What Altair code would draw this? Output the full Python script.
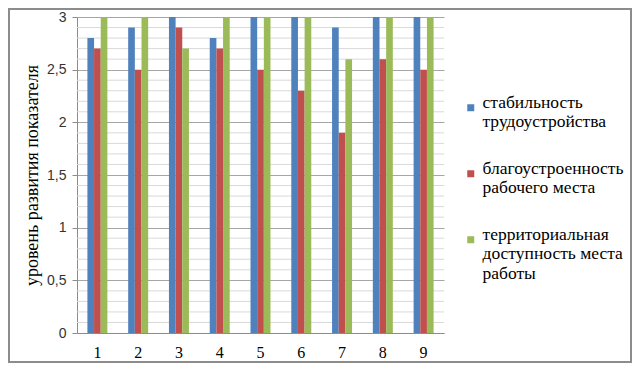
import altair as alt
import pandas as pd

categories = ["1", "2", "3", "4", "5", "6", "7", "8", "9"]
series = [
    "стабильность\nтрудоустройства",
    "благоустроенность\nрабочего места",
    "территориальная\nдоступность места\nработы",
]
stability = [2.8, 2.9, 3.0, 2.8, 3.0, 3.0, 2.9, 3.0, 3.0]
comfort = [2.7, 2.5, 2.9, 2.7, 2.5, 2.3, 1.9, 2.6, 2.5]
access = [3.0, 3.0, 2.7, 3.0, 3.0, 3.0, 2.6, 3.0, 3.0]
colors = ["#4F81BD", "#C0504D", "#9BBB59"]
major_ticks = [0, 0.5, 1, 1.5, 2, 2.5, 3]
minor_ticks = [0.1, 0.2, 0.3, 0.4, 0.6, 0.7, 0.8, 0.9,
               1.1, 1.2, 1.3, 1.4, 1.6, 1.7, 1.8, 1.9,
               2.1, 2.2, 2.3, 2.4, 2.6, 2.7, 2.8, 2.9]
y_title = "уровень развития показателя"
SERIF = "Liberation Serif"

rows = []
for s, vals in zip(series, [stability, comfort, access]):
    for c, v in zip(categories, vals):
        rows.append({"cat": c, "series": s, "value": v})
df = pd.DataFrame(rows)
minor_df = pd.DataFrame({"v": minor_ticks})
frame_df = pd.DataFrame({"a": [0]})

yscale = alt.Scale(domain=[0, 3], nice=False)

minor = alt.Chart(minor_df).mark_rule(color="#D9D9D9", strokeWidth=1).encode(
    y=alt.Y("v:Q", scale=yscale)
)

bars = alt.Chart(df).mark_bar().encode(
    x=alt.X(
        "cat:N", sort=categories, title=None,
        scale=alt.Scale(paddingInner=0.51, paddingOuter=0.255),
        axis=alt.Axis(labelAngle=0, ticks=False, domainColor="#8C8C8C",
                      labelFont=SERIF, labelFontSize=16,
                      labelColor="#000000", labelPadding=11, grid=False),
    ),
    xOffset=alt.XOffset("series:N", sort=series,
                        scale=alt.Scale(paddingInner=0, paddingOuter=0)),
    y=alt.Y(
        "value:Q", scale=yscale, title=y_title,
        axis=alt.Axis(values=major_ticks,
                      labelExpr="replace(toString(datum.value), '.', ',')",
                      grid=True, gridColor="#A6A6A6", domainColor="#8C8C8C",
                      tickColor="#8C8C8C", tickSize=5,
                      labelFont="Liberation Sans", labelFontSize=14,
                      labelColor="#333333", labelPadding=6,
                      titleFont=SERIF, titleFontSize=18,
                      titleFontWeight="normal", titleColor="#000000",
                      titlePadding=5),
    ),
    color=alt.Color(
        "series:N", sort=series,
        scale=alt.Scale(domain=series, range=colors),
        legend=alt.Legend(
            title=None, orient="none", legendX=385, legendY=82,
            symbolType="square", symbolSize=49, symbolStrokeWidth=0,
            labelFont=SERIF, labelFontSize=17.5,
            labelColor="#000000", labelLimit=300, labelOffset=3,
            labelBaseline="alphabetic", rowPadding=28, padding=0,
            labelExpr="split(datum.label, '\\n')",
        ),
    ),
)

frame = alt.Chart(frame_df).mark_rect(
    fill=None, stroke="#8C8C8C", strokeWidth=2
).encode(
    x=alt.value(-68), x2=alt.value(554), y=alt.value(-8), y2=alt.value(345)
)

chart = alt.layer(minor, bars, frame).properties(
    width=367, height=316,
    autosize=alt.AutoSizeParams(type="none"),
    padding={"left": 69, "top": 9, "right": 188, "bottom": 30},
).configure_view(stroke=None)

chart.save("out.html", embed_options={"renderer": "svg", "actions": False})
